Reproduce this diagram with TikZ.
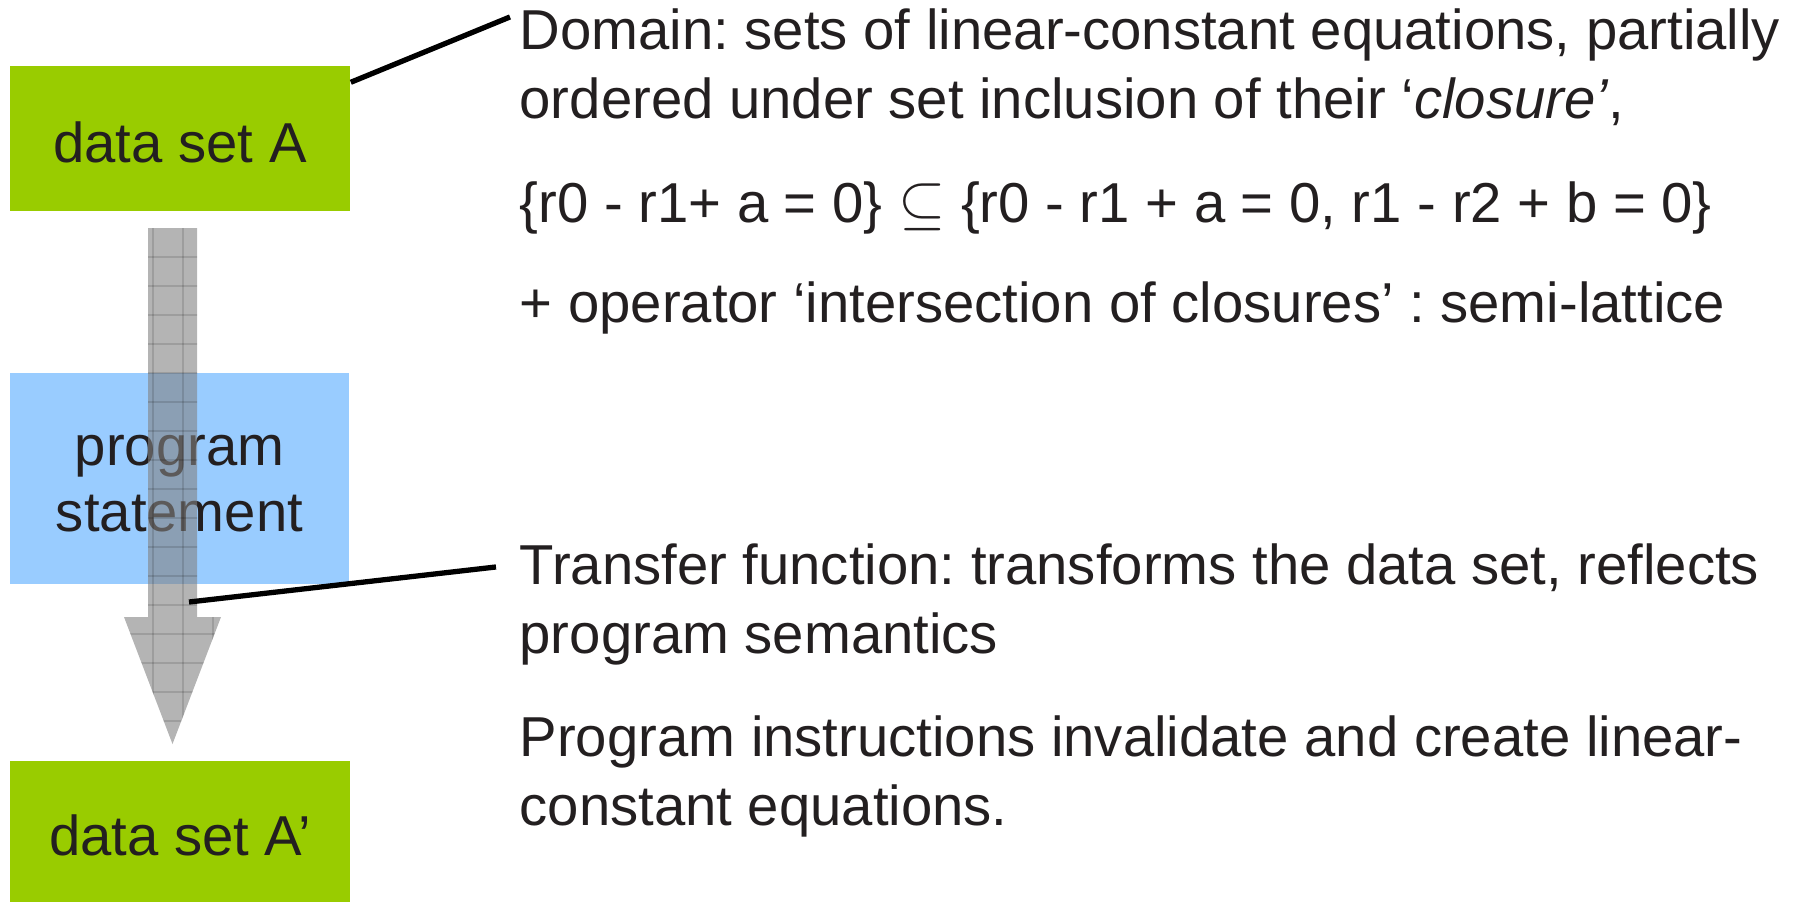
\documentclass[tikz,border=0pt]{standalone}
\usepackage{fontspec}
\setmainfont{Liberation Sans}
\usetikzlibrary{calc}
\frenchspacing
\definecolor{boxgreen}{HTML}{99CC00}
\definecolor{boxblue}{HTML}{99CCFF}
\definecolor{arrowgray}{HTML}{828282}
\definecolor{inkdark}{HTML}{231F20}
\tikzset{
  boxtext/.style={text=inkdark, font=\fontsize{16}{19.35}\selectfont},
  databox/.style={boxtext, fill=boxgreen, minimum width=3.4cm, inner sep=0pt, text height=0.47cm, text depth=0pt},
  stmtbox/.style={boxtext, font=\fontsize{16}{18.5}\selectfont, fill=boxblue, minimum width=3.39cm, minimum height=2.11cm, inner sep=0pt, align=center, text height=1.05cm, text depth=0pt},
  note/.style={boxtext, anchor=base west, align=left, inner sep=0pt},
  leader/.style={line width=1.5pt, black},
  gridline/.style={black, opacity=0.13, line width=0.3pt}
}

\begin{document}
\begin{tikzpicture}[x=0.01cm, y=-0.01cm]
    \useasboundingbox (0,0) rectangle (1807,902);

      % boxes on the left
      \node[databox, minimum height=1.45cm] (dataA) at (180,138.5) {data set A};
      \node[stmtbox] (stmt) at (179.5,478.5) {program\\statement};
      \node[databox, minimum height=1.41cm] (dataB) at (180,831.5) {data set A’};

      % flow arrow, see-through over the statement box
      \def\flowpath{(148,228) -- (197,228) -- (197,617) -- (221,617)
        -- (172.5,744) -- (124,617) -- (148,617) -- cycle}
      \fill[arrowgray, fill opacity=0.6] \flowpath;
      \begin{scope}
        \clip \flowpath;
        \foreach \gy in {257,286,...,740}
          \draw[gridline] (100,\gy) -- (240,\gy);
        \foreach \gx in {123,153,183,213}
          \draw[gridline] (\gx,220) -- (\gx,750);
      \end{scope}

      % explanations (base = last line)
      \node[note] (dom) at (519,118) {Domain: sets of linear-constant equations, partially\\ordered under set inclusion of their ‘\textit{closure’},};
      \node[note] (incl) at (519,222) {\{r0 - r1+ a = 0\} $\subseteq$ \{r0 - r1 + a = 0, r1 - r2 + b = 0\}};
      \node[note] (oper) at (519,322) {+ operator ‘intersection of closures’ : semi-lattice};
      \node[note] (trans) at (519,653) {Transfer function: transforms the data set, reflects\\program semantics};
      \node[note] (instr) at (519,825) {Program instructions invalidate and create linear-\\constant equations.};

      % leader lines
      \coordinate (shaftpt) at (189,602);
      \draw[leader] ([yshift=-0.17cm]dataA.north east) -- ([shift={(-0.09cm,1.01cm)}]dom.base west);
      \draw[leader] (shaftpt) -- ([shift={(-0.23cm,0.86cm)}]trans.base west);

    \end{tikzpicture}
\end{document}
